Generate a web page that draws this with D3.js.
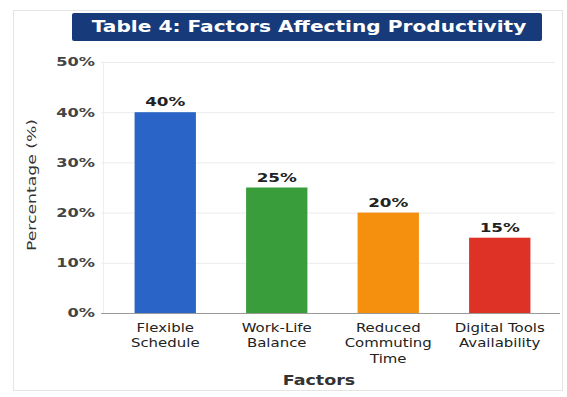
<!DOCTYPE html>
<html><head><meta charset="utf-8">
<script src="https://cdn.jsdelivr.net/npm/d3@7"></script>
<style>body{margin:0;background:#fff;}svg{display:block;}</style>
</head><body>
<svg id="c" width="567" height="397"></svg>
<script>
const categories = [["Flexible","Schedule"],["Work-Life","Balance"],["Reduced","Commuting","Time"],["Digital Tools","Availability"]];
const values = [40, 25, 20, 15];
const colors = ["#2a64c6", "#3a9d3c", "#f5900f", "#de3226"];
const yTicks = [0, 10, 20, 30, 40, 50];
const titleText = "Table 4: Factors Affecting Productivity";

const svg = d3.select("#c");
const font = "'DejaVu Sans', Verdana, sans-serif";

// frame
svg.append("rect").attr("x",13.5).attr("y",10.5).attr("width",549).attr("height",380)
  .attr("fill","none").attr("stroke","#e4e4e4").attr("stroke-width",1);

const x = d3.scaleBand().domain(d3.range(values.length)).range([109.5, 555.5]).paddingInner(0.45).paddingOuter(0.225);
const y = d3.scaleLinear().domain([0, 50]).range([313, 62]);

// gridlines
svg.append("g").selectAll("line").data(yTicks.filter(t=>t>0)).join("line")
  .attr("x1",101).attr("x2",555).attr("y1",d=>y(d)+0.5).attr("y2",d=>y(d)+0.5)
  .attr("stroke","#ececec").attr("stroke-width",1);
svg.append("line").attr("x1",103.5).attr("x2",103.5).attr("y1",y(50)).attr("y2",y(0))
  .attr("stroke","#eeeeee");

// y axis
const yAxis = d3.axisLeft(y).tickValues(yTicks).tickFormat(d=>d+"%").tickSize(0).tickPadding(8);
const gy = svg.append("g").attr("transform","translate(101,0)").call(yAxis);
gy.select(".domain").remove();
gy.selectAll("text").attr("x",0).attr("transform","translate(-6,0) scale(1.35,1)")
  .attr("font-family",font).attr("font-size",12).attr("font-weight","bold").attr("fill","#444");

// bars
svg.append("g").selectAll("rect").data(values).join("rect")
  .attr("x",(d,i)=>x(i)).attr("width",x.bandwidth())
  .attr("y",d=>y(d)).attr("height",d=>y(0)-y(d))
  .attr("fill",(d,i)=>colors[i]);

// value labels
svg.append("g").selectAll("text").data(values).join("text")
  .attr("transform",(d,i)=>`translate(${x(i)+x.bandwidth()/2},${y(d)-6}) scale(1.4,1)`)
  .attr("text-anchor","middle").attr("font-family",font).attr("font-size",12).attr("font-weight","bold")
  .attr("fill","#222").text(d=>d+"%");

// baseline
svg.append("line").attr("x1",101).attr("x2",560).attr("y1",y(0)+0.5).attr("y2",y(0)+0.5)
  .attr("stroke","#999").attr("stroke-width",1);

// x axis labels
const xAxis = d3.axisBottom(x).tickSize(0).tickFormat(()=>"");
const gx = svg.append("g").attr("transform",`translate(0,${y(0)})`).call(xAxis);
gx.select(".domain").remove();
gx.selectAll(".tick").each(function(i){
  const t = d3.select(this).append("text").attr("font-family",font).attr("font-size",11.5)
    .attr("fill","#222").attr("text-anchor","middle").attr("transform","scale(1.3,1)");
  categories[i].forEach((line,k)=>{
    t.append("tspan").attr("x",0).attr("y",19+k*15.5).text(line);
  });
});

// x title
svg.append("text").attr("transform","translate(319,385) scale(1.25,1)").attr("text-anchor","middle")
  .attr("font-family",font).attr("font-size",14).attr("font-weight","bold").attr("fill","#333").text("Factors");

// y title
svg.append("text").attr("transform","translate(36,185) rotate(-90)").attr("text-anchor","middle")
  .attr("font-family",font).attr("font-size",13).attr("fill","#333").attr("textLength",132).attr("lengthAdjust","spacingAndGlyphs").text("Percentage (%)");

// title box
svg.append("rect").attr("x",72).attr("y",13).attr("width",470).attr("height",28).attr("rx",2)
  .attr("fill","#173b7a");
svg.append("text").attr("transform","translate(309,32) scale(1.3,1)").attr("text-anchor","middle")
  .attr("font-family",font).attr("font-size",15.5).attr("font-weight","bold").attr("fill","#fff").text(titleText);
</script>
</body></html>
